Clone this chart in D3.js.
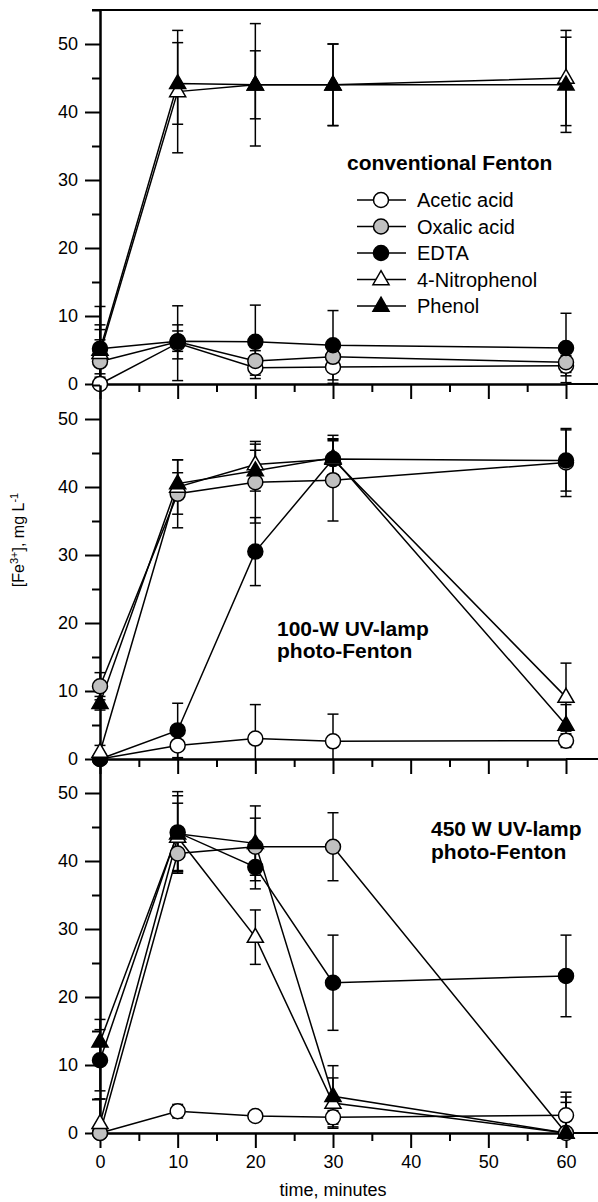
<!DOCTYPE html>
<html>
<head>
<meta charset="utf-8">
<script src="https://cdn.jsdelivr.net/npm/d3@7"></script>
<style>
  html, body { margin: 0; padding: 0; background: #fff; }
  svg { display: block; }
  text { font-family: "Liberation Sans", Arial, Helvetica, sans-serif; fill: #000; }
</style>
</head>
<body>
<script>
// ---------------- data ----------------
const times = [0, 10, 20, 30, 60];
const seriesNames = ["Acetic acid", "Oxalic acid", "EDTA", "4-Nitrophenol", "Phenol"];
const xTicks = [0, 10, 20, 30, 40, 50, 60];
const xMinorTicks = [5, 15, 25, 35, 45, 55];
const yTicks = [0, 10, 20, 30, 40, 50];
const yMinorTicks = [5, 15, 25, 35, 45, 55];
const xLabel = "time, minutes";

// conventional Fenton (rows follow seriesNames)
const conventionalMeans = [
  [0, 6.0, 2.4, 2.5, 2.7],
  [3.3, 6.2, 3.4, 4.0, 3.2],
  [5.2, 6.3, 6.2, 5.7, 5.3],
  [4.5, 43.0, 44.0, 44.0, 45.0],
  [5.0, 44.2, 44.0, 44.0, 44.0]
];
const conventionalErrors = [
  [1.5, 5.5, 1.1, 2.4, 1.5],
  [5.4, 2.5, 1.5, 1.5, 1.5],
  [6.2, 1.5, 5.4, 5.1, 5.1],
  [3.5, 9.0, 9.0, 6.0, 7.0],
  [1.5, 6.0, 5.0, 6.0, 7.0]
];
// 100-W UV-lamp photo-Fenton
const uv100Means = [
  [0, 2.0, 3.0, 2.6, 2.7],
  [10.7, 39.0, 40.7, 41.0, 43.6],
  [0, 4.2, 30.5, 44.1, 43.9],
  [1.0, 40.0, 43.3, 44.1, 9.1],
  [8.2, 40.5, 42.4, 44.3, 5.0]
];
const uv100Errors = [
  [0.5, 2.0, 5.0, 4.0, 1.0],
  [2.0, 5.0, 6.0, 6.0, 5.0],
  [0, 4.0, 5.0, 3.5, 4.5],
  [1.0, 4.0, 3.0, 3.0, 5.0],
  [1.0, 1.6, 3.0, 2.5, 3.0]
];
// 450 W UV-lamp photo-Fenton
const uv450Means = [
  [0, 3.2, 2.5, 2.3, 2.6],
  [0, 41.1, 42.1, 42.1, 0],
  [10.7, 44.2, 39.1, 22.1, 23.1],
  [1.4, 43.5, 28.8, 4.4, 0],
  [13.4, 44.0, 42.6, 5.4, 0]
];
const uv450Errors = [
  [0, 1.0, 0.5, 1.0, 3.4],
  [5.0, 2.5, 4.2, 5.0, 0],
  [4.5, 6.0, 3.2, 7.0, 6.0],
  [3.6, 5.0, 4.0, 3.7, 5.3],
  [3.3, 5.6, 5.5, 4.5, 4.5]
];
const panelTitles = [["conventional Fenton"], ["100-W UV-lamp", "photo-Fenton"], ["450 W UV-lamp", "photo-Fenton"]];

// ---------------- layout / style ----------------
const W = 598, H = 1202;
const panels = [
  { means: conventionalMeans, errors: conventionalErrors, bottom: 384, title: panelTitles[0], tx: 347, ty: [169.5] },
  { means: uv100Means, errors: uv100Errors, bottom: 759, title: panelTitles[1], tx: 277, ty: [636, 658] },
  { means: uv450Means, errors: uv450Errors, bottom: 1133, title: panelTitles[2], tx: 431, ty: [836, 859] }
];
const panelH = 374;
const markerStyle = [
  { shape: "circle", fill: "#fff" },
  { shape: "circle", fill: "#c0c0c0" },
  { shape: "circle", fill: "#000" },
  { shape: "triangle", fill: "#fff" },
  { shape: "triangle", fill: "#000" }
];

const svg = d3.select("body").append("svg").attr("width", W).attr("height", H);
const x = d3.scaleLinear().domain([0, 60]).range([100, 566]);
const tri = d3.symbol().type(d3.symbolTriangle).size(112);

function drawMarker(sel, style, cx, cy) {
  if (style.shape === "circle") {
    sel.append("circle").attr("cx", cx).attr("cy", cy).attr("r", 7.5)
      .attr("fill", style.fill).attr("stroke", "#000").attr("stroke-width", 1.5);
  } else {
    sel.append("path").attr("d", tri).attr("transform", `translate(${cx},${cy + 0.5})`)
      .attr("fill", style.fill).attr("stroke", "#000").attr("stroke-width", 1.5)
      .attr("stroke-linejoin", "miter");
  }
}

function styleAxis(g) {
  g.selectAll("path, line").attr("stroke", "#000").attr("stroke-width", 2);
  g.selectAll("text").attr("font-size", 18).attr("fill", "#000")
    .attr("font-family", '"Liberation Sans", Arial, sans-serif');
}

panels.forEach((p, pi) => {
  const y = d3.scaleLinear().domain([0, 55]).range([p.bottom, p.bottom - panelH]);
  const g = svg.append("g");

  // axes
  const ax = g.append("g").attr("transform", "translate(100,0)")
    .call(d3.axisLeft(y).tickValues(yTicks).tickSize(15).tickPadding(7).tickSizeOuter(0));
  styleAxis(ax);
  const axm = g.append("g").attr("transform", "translate(100,0)")
    .call(d3.axisLeft(y).tickValues(yMinorTicks).tickSize(8).tickFormat("").tickSizeOuter(0));
  styleAxis(axm);
  const bx = g.append("g").attr("transform", `translate(0,${p.bottom})`)
    .call(d3.axisBottom(x).tickValues(xTicks).tickSize(15).tickPadding(7).tickSizeOuter(0)
      .tickFormat(pi === 2 ? d3.format("d") : ""));
  styleAxis(bx);
  const bxm = g.append("g").attr("transform", `translate(0,${p.bottom})`)
    .call(d3.axisBottom(x).tickValues(xMinorTicks).tickSize(8).tickFormat("").tickSizeOuter(0));
  styleAxis(bxm);
  g.append("line").attr("x1", x(60)).attr("x2", W).attr("y1", p.bottom).attr("y2", p.bottom)
    .attr("stroke", "#000").attr("stroke-width", 2);
  if (pi === 0) {
    g.append("line").attr("x1", 92).attr("x2", W).attr("y1", y(55)).attr("y2", y(55))
      .attr("stroke", "#000").attr("stroke-width", 2);
  }

  // clip for error bars
  const cid = "clip" + pi;
  svg.append("clipPath").attr("id", cid).append("rect")
    .attr("x", 0).attr("width", W).attr("y", y(55)).attr("height", panelH);

  const eg = g.append("g").attr("clip-path", `url(#${cid})`);
  const lg = g.append("g");
  const mg = g.append("g");
  const line = d3.line().x(d => x(d[0])).y(d => y(d[1]));

  p.means.forEach((vals, si) => {
    const errs = p.errors[si];
    times.forEach((t, k) => {
      const e = errs[k];
      if (e > 0) {
        const cx = x(t), y1 = y(vals[k] + e), y2 = y(vals[k] - e);
        eg.append("line").attr("x1", cx).attr("x2", cx).attr("y1", y1).attr("y2", y2)
          .attr("stroke", "#000").attr("stroke-width", 1.5);
        [y1, y2].forEach(yy => eg.append("line").attr("x1", cx - 5.5).attr("x2", cx + 5.5)
          .attr("y1", yy).attr("y2", yy).attr("stroke", "#000").attr("stroke-width", 1.5));
      }
    });
    lg.append("path").attr("d", line(times.map((t, k) => [t, vals[k]])))
      .attr("fill", "none").attr("stroke", "#000").attr("stroke-width", 1.5);
  });
  p.means.forEach((vals, si) => {
    times.forEach((t, k) => drawMarker(mg, markerStyle[si], x(t), y(vals[k])));
  });

  // title
  p.title.forEach((s, li) => {
    g.append("text").attr("x", p.tx).attr("y", p.ty[li]).attr("font-size", 21)
      .attr("font-weight", "bold").text(s);
  });
});

// legend (first panel)
const leg = svg.append("g");
seriesNames.forEach((name, i) => {
  const cy = 200 + i * 26.5;
  leg.append("line").attr("x1", 357).attr("x2", 406).attr("y1", cy).attr("y2", cy)
    .attr("stroke", "#000").attr("stroke-width", 1.5);
  drawMarker(leg, markerStyle[i], 381, cy);
  leg.append("text").attr("x", 417).attr("y", cy).attr("dy", "0.36em")
    .attr("font-size", 20).text(name);
});

// axis labels
svg.append("text").attr("x", 333).attr("y", 1196).attr("text-anchor", "middle")
  .attr("font-size", 18).text(xLabel);

const yl = svg.append("text").attr("transform", "translate(24,540) rotate(-90)")
  .attr("text-anchor", "middle").attr("font-size", 16);
yl.append("tspan").text("[Fe");
yl.append("tspan").attr("font-size", 11).attr("baseline-shift", "super").text("3+");
yl.append("tspan").text("], mg L");
yl.append("tspan").attr("font-size", 11).attr("baseline-shift", "super").text("-1");
</script>
</body>
</html>
